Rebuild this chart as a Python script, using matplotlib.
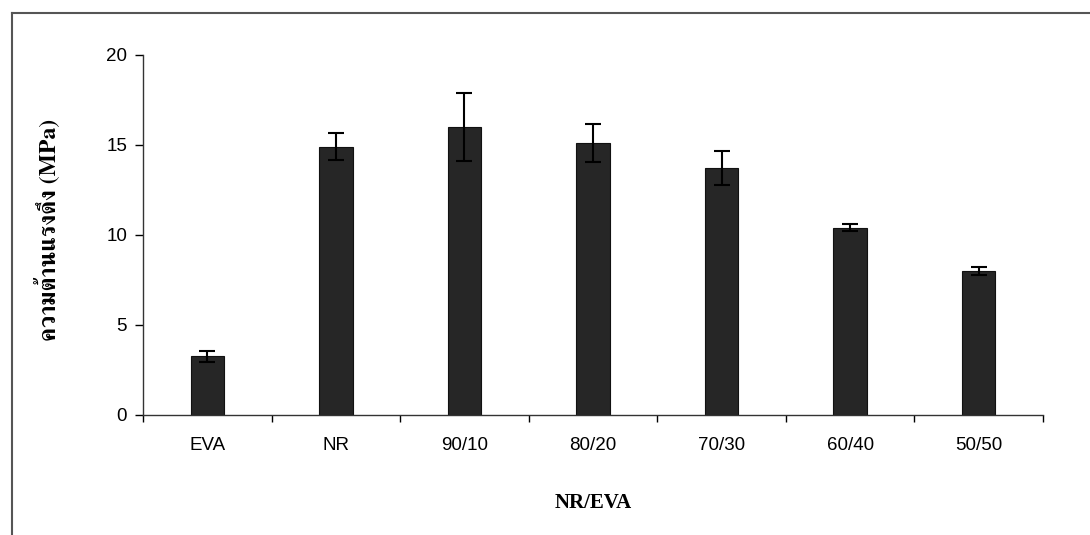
import matplotlib
matplotlib.use("Agg")
import matplotlib.pyplot as plt
from matplotlib.lines import Line2D
import numpy as np

# data
blends = ["EVA", "NR", "90/10", "80/20", "70/30", "60/40", "50/50"]
strength = [3.25, 14.9, 16.0, 15.1, 13.7, 10.4, 8.0]
strength_sd = [0.3, 0.75, 1.9, 1.05, 0.95, 0.2, 0.2]

W, H = 1090, 535
fig = plt.figure(figsize=(W / 100, H / 100), dpi=100)
ax = fig.add_axes([0.1312, 0.2243, 0.8257, 0.6729])

x = np.arange(len(blends))
ax.bar(x, strength, width=0.26, color="#262626", edgecolor="#111111", linewidth=0.8, zorder=2)
ax.errorbar(x, strength, yerr=strength_sd, fmt="none", ecolor="black",
            elinewidth=1.5, capsize=5.5, capthick=1.5, zorder=3)

ax.set_xlim(-0.5, len(blends) - 0.5)
ax.set_ylim(0, 20)
ax.set_yticks([0, 5, 10, 15, 20])

# labels at bar centres, tick marks between categories
ax.set_xticks(x)
ax.set_xticklabels(blends, fontfamily="Liberation Sans", fontsize=13.5)
ax.tick_params(axis="x", which="major", length=0, pad=16)
ax.set_xticks(np.arange(len(blends) + 1) - 0.5, minor=True)
ax.tick_params(axis="x", which="minor", length=5, width=1, direction="out")
ax.tick_params(axis="y", length=5.5, width=1, pad=6, labelsize=13.5)
for lab in ax.get_yticklabels():
    lab.set_fontfamily("Liberation Sans")

for side in ["top", "right"]:
    ax.spines[side].set_visible(False)
for side in ["left", "bottom"]:
    ax.spines[side].set_color("#333333")
    ax.spines[side].set_linewidth(1.0)

ax.set_xlabel("NR/EVA", family=["Liberation Serif", "DejaVu Serif"],
              fontweight="bold", fontsize=15, labelpad=28)

# y label, rotated, reading bottom to top
fig.text(47 / W, 1 - 230 / H, "ความต้านแรงดึง (MPa)",
         family=["FreeSerif", "Loma", "Liberation Serif", "DejaVu Serif"],
         fontweight="bold", fontsize=17, rotation=90, ha="center", va="center")

# outer frame of the scanned page
fig.add_artist(Line2D([12 / W, 1.0], [1 - 13 / H] * 2, transform=fig.transFigure,
                      color="#555555", linewidth=1.5))
fig.add_artist(Line2D([12 / W] * 2, [0.0, 1 - 13 / H], transform=fig.transFigure,
                      color="#555555", linewidth=1.5))

fig.savefig("out.png", dpi=100)
